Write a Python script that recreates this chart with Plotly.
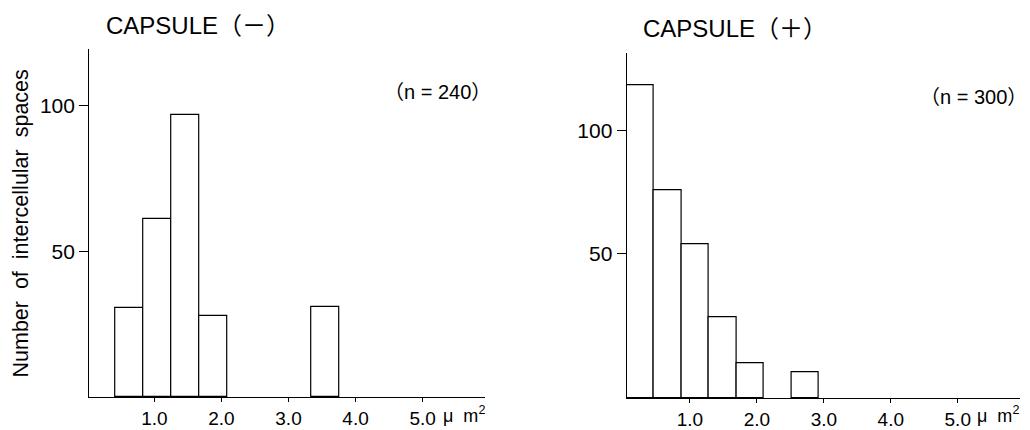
import plotly.graph_objects as go

# ---- data ----
LEFT_TITLE = "CAPSULE（－）"
RIGHT_TITLE = "CAPSULE（＋）"
LEFT_N = "（n = 240）"
RIGHT_N = "（n = 300）"
Y_TITLE = "Number\u00a0 of\u00a0 intercellular\u00a0 spaces"
UNIT = "μ\u00a0 m<sup>2</sup>"

X_TICKS = [1.0, 2.0, 3.0, 4.0, 5.0]
X_TICK_TEXT = ["1.0", "2.0", "3.0", "4.0", "5.0"]
Y_TICKS = [50, 100]
Y_TICK_TEXT = ["50", "100"]

BIN_WIDTH_LEFT = 0.415
LEFT_CENTERS = [0.63, 1.045, 1.46, 1.875, 3.55]
LEFT_COUNTS = [30.5, 61.2, 96.7, 27.8, 30.8]

BIN_WIDTH_RIGHT = 0.41
RIGHT_CENTERS = [0.26, 0.67, 1.08, 1.49, 1.90, 2.31, 2.72]
RIGHT_COUNTS = [118.5, 75.5, 53.5, 24.0, 5.0, None, 1.5]

LEFT_YRANGE = [0, 119.5]
RIGHT_YRANGE = [-9.1, 131.5]   # axis floor sits below zero in the original drawing
LEFT_XRANGE = [0.03, 5.93]
RIGHT_XRANGE = [0.055, 5.93]

FONT = "Liberation Sans, Arial, Noto Sans CJK JP, sans-serif"

# page body has an 8px margin; lay the figure out in window pixels
OFF = 8
W, H = 1030 - OFF, 430 - OFF


def px(x):
    return (x - OFF) / W


def py(y):
    return 1 - (y - OFF) / H


fig = go.Figure()

fig.add_trace(go.Bar(
    x=LEFT_CENTERS, y=LEFT_COUNTS, width=BIN_WIDTH_LEFT,
    marker=dict(color="white", line=dict(color="black", width=1.2)),
    xaxis="x", yaxis="y", showlegend=False, hoverinfo="x+y"))

rc = [(c, v) for c, v in zip(RIGHT_CENTERS, RIGHT_COUNTS) if v is not None]
floor = RIGHT_YRANGE[0]
fig.add_trace(go.Bar(
    x=[c for c, _ in rc], y=[v - floor for _, v in rc], base=floor,
    width=BIN_WIDTH_RIGHT,
    marker=dict(color="white", line=dict(color="black", width=1.2)),
    xaxis="x2", yaxis="y2", showlegend=False, hoverinfo="x"))

axis_common = dict(showline=True, linecolor="black", linewidth=1.3,
                   showgrid=False, zeroline=False, ticks="outside",
                   tickcolor="black", fixedrange=True)

fig.update_layout(
    width=W, height=H,
    margin=dict(l=0, r=0, t=0, b=0),
    paper_bgcolor="white", plot_bgcolor="white",
    font=dict(family=FONT, color="black"),
    bargap=0,
    xaxis=dict(domain=[px(89.3), px(485)], range=LEFT_XRANGE,
               tickvals=X_TICKS, ticktext=X_TICK_TEXT, ticklen=4,
               tickfont=dict(size=19), anchor="y", **axis_common),
    yaxis=dict(domain=[py(397), py(49)], range=LEFT_YRANGE,
               tickvals=Y_TICKS, ticktext=Y_TICK_TEXT, ticklen=9,
               tickfont=dict(size=21), anchor="x", **axis_common),
    xaxis2=dict(domain=[px(626.7), px(1020)], range=RIGHT_XRANGE,
                tickvals=X_TICKS, ticktext=X_TICK_TEXT, ticklen=4,
                tickfont=dict(size=19), anchor="y2", **axis_common),
    yaxis2=dict(domain=[py(398.3), py(53.3)], range=RIGHT_YRANGE,
                tickvals=Y_TICKS, ticktext=Y_TICK_TEXT, ticklen=9,
                tickfont=dict(size=21), anchor="x2", **axis_common),
)

ann = [
    dict(text=LEFT_TITLE, xref="paper", yref="paper", x=px(104), y=py(25),
         xanchor="left", yanchor="middle", font=dict(size=24)),
    dict(text=RIGHT_TITLE, xref="paper", yref="paper", x=px(641), y=py(28),
         xanchor="left", yanchor="middle", font=dict(size=24)),
    dict(text=LEFT_N, xref="paper", yref="paper", x=px(493), y=py(92),
         xanchor="right", yanchor="middle", font=dict(size=20)),
    dict(text=RIGHT_N, xref="paper", yref="paper", x=px(1029), y=py(97),
         xanchor="right", yanchor="middle", font=dict(size=20)),
    dict(text=Y_TITLE, xref="paper", yref="paper", x=px(20.5), y=py(224),
         xanchor="center", yanchor="middle", textangle=-90, font=dict(size=21.5)),
    dict(text=UNIT, xref="x", yref="paper", x=5.28, y=py(414),
         xanchor="left", yanchor="middle", font=dict(size=18)),
    dict(text=UNIT, xref="x2", yref="paper", x=5.26, y=py(414),
         xanchor="left", yanchor="middle", font=dict(size=18)),
]
for a in ann:
    a["showarrow"] = False
fig.update_layout(annotations=ann)

fig.write_html("out.html")
